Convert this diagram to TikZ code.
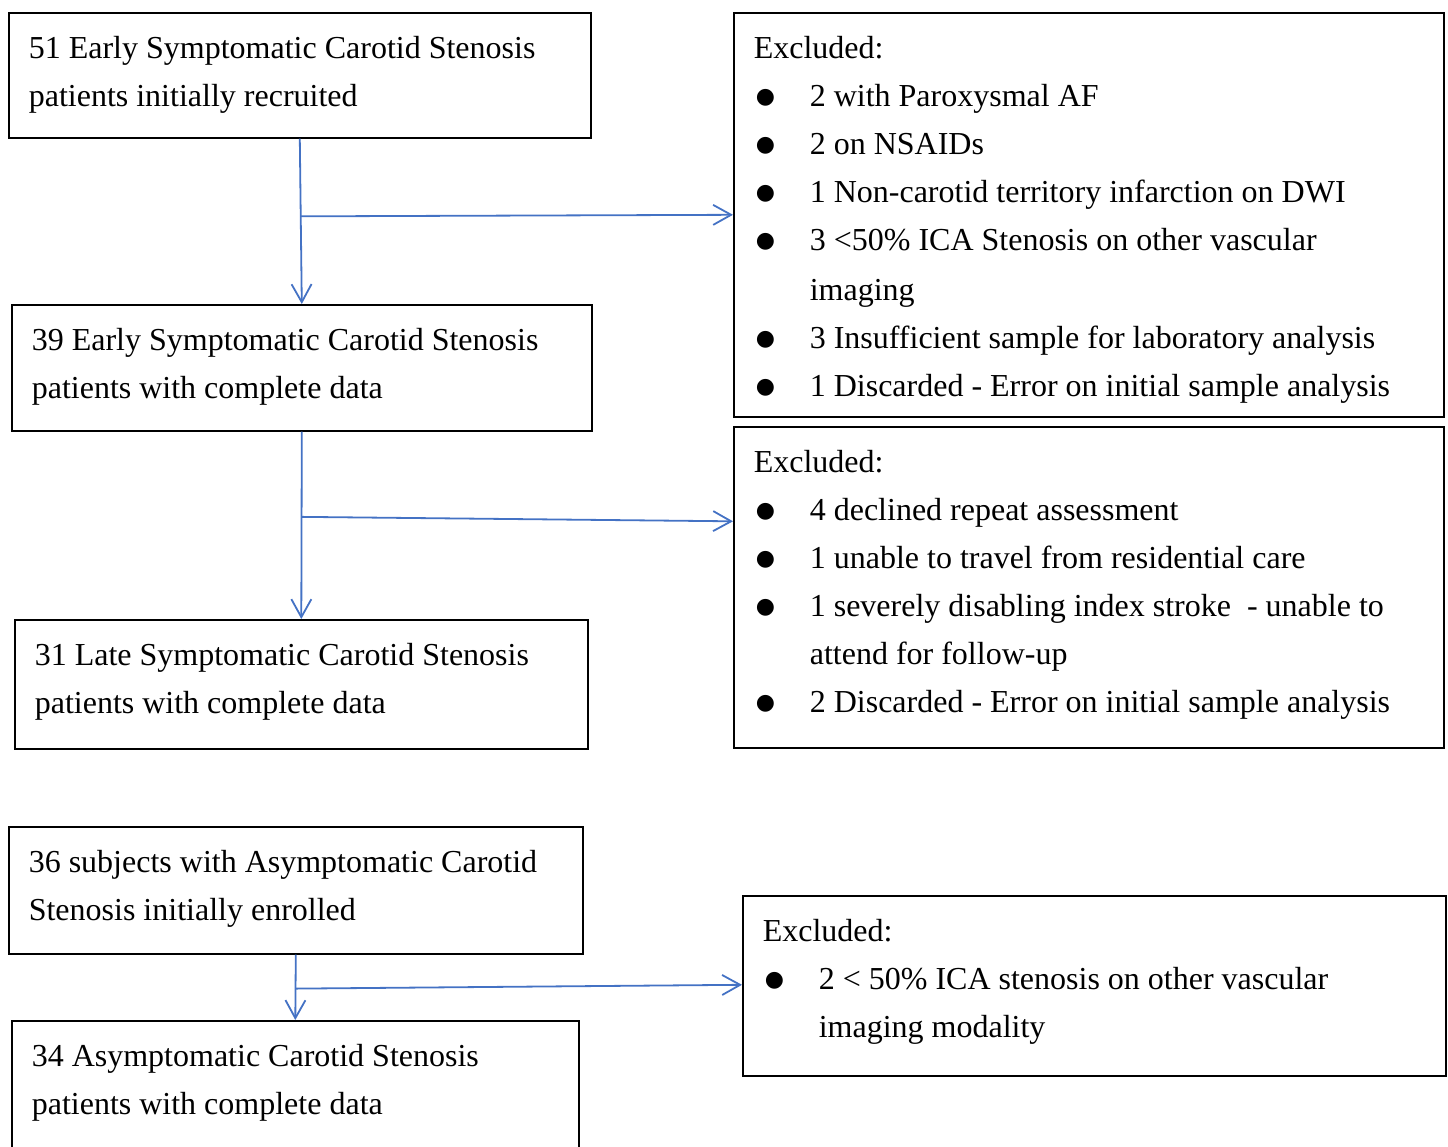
\documentclass[tikz,border=0pt]{standalone}
\usepackage{fontspec}
\setmainfont{Liberation Serif}
\newfontfamily\symfont{DejaVu Sans}
\usetikzlibrary{arrows.meta, calc}
\definecolor{flowblue}{HTML}{4472C4}

\newcommand{\dotmark}{\makebox[28pt][l]{\hspace{1pt}\raisebox{1.6pt}{\symfont\fontsize{11pt}{11pt}\selectfont ●}}}
\newcommand{\hang}{\hspace*{28pt}}
\newcommand{\panel}[3]{\parbox[t][\dimexpr#2pt/2\relax][t]{\dimexpr#1pt/2-20pt\relax}{\fontsize{16pt}{24pt}\selectfont\raggedright\rule{0pt}{23pt}#3}}

\tikzset{
  panelbox/.style={draw, line width=0.8pt, inner xsep=10pt, inner ysep=0pt, anchor=north west},
  flow/.style={draw=flowblue, line width=0.9pt, -{Straight Barb[length=9pt,width=10pt]}},
}

\begin{document}
\begin{tikzpicture}[x=0.5pt, y=-0.5pt]
  \useasboundingbox (0,0) rectangle (1448,1147);
  \clip (0,0) rectangle (1448,1147);

  % symptomatic group
  \node[panelbox] (recruit) at (8,12) {\panel{582}{125}{51 Early Symptomatic Carotid Stenosis\\patients initially recruited}};
  \node[panelbox] (early) at (11,304) {\panel{580}{126}{39 Early Symptomatic Carotid Stenosis\\patients with complete data}};
  \node[panelbox] (late) at (14,619) {\panel{573}{129}{31 Late Symptomatic Carotid Stenosis\\patients with complete data}};

  \node[panelbox] (exclA) at (733,12) {\panel{710}{404}{Excluded:\\
    \dotmark 2 with Paroxysmal AF\\
    \dotmark 2 on NSAIDs\\
    \dotmark 1 Non-carotid territory infarction on DWI\\
    \dotmark 3 <50\% ICA Stenosis on other vascular\\[1pt]
    \hang imaging\\
    \dotmark 3 Insufficient sample for laboratory analysis\\
    \dotmark 1 Discarded - Error on initial sample analysis}};
  \node[panelbox] (exclB) at (733,426) {\panel{710}{321}{Excluded:\\
    \dotmark 4 declined repeat assessment\\
    \dotmark 1 unable to travel from residential care\\
    \dotmark 1 severely disabling index stroke~ - unable to\\
    \hang attend for follow-up\\
    \dotmark 2 Discarded - Error on initial sample analysis}};

  % asymptomatic group
  \node[panelbox] (enrol) at (8,826) {\panel{574}{127}{36 subjects with Asymptomatic Carotid\\Stenosis initially enrolled}};
  \node[panelbox] (asym) at (11,1020) {\panel{567}{140}{34 Asymptomatic Carotid Stenosis\\patients with complete data}};
  \node[panelbox] (exclC) at (742,895) {\panel{703}{180}{Excluded:\\
    \dotmark 2 < 50\% ICA stenosis on other vascular\\
    \hang imaging modality}};

  \coordinate (splitA) at ($(recruit.south)!0.47!(early.north)$);
  \coordinate (splitB) at ($(early.south)!0.455!(late.north)$);
  \coordinate (splitC) at ($(enrol.south)!0.52!(asym.north)$);

  \draw[flow] (recruit.south) -- (early.north);
  \draw[flow] (splitA) -- (exclA.west);
  \draw[flow] (early.south) -- (late.north);
  \draw[flow] (splitB) -- ([yshift=33pt]exclB.west);
  \draw[flow] (enrol.south) -- (asym.north);
  \draw[flow] (splitC) -- ([yshift=0.5pt]exclC.west);
\end{tikzpicture}
\end{document}
